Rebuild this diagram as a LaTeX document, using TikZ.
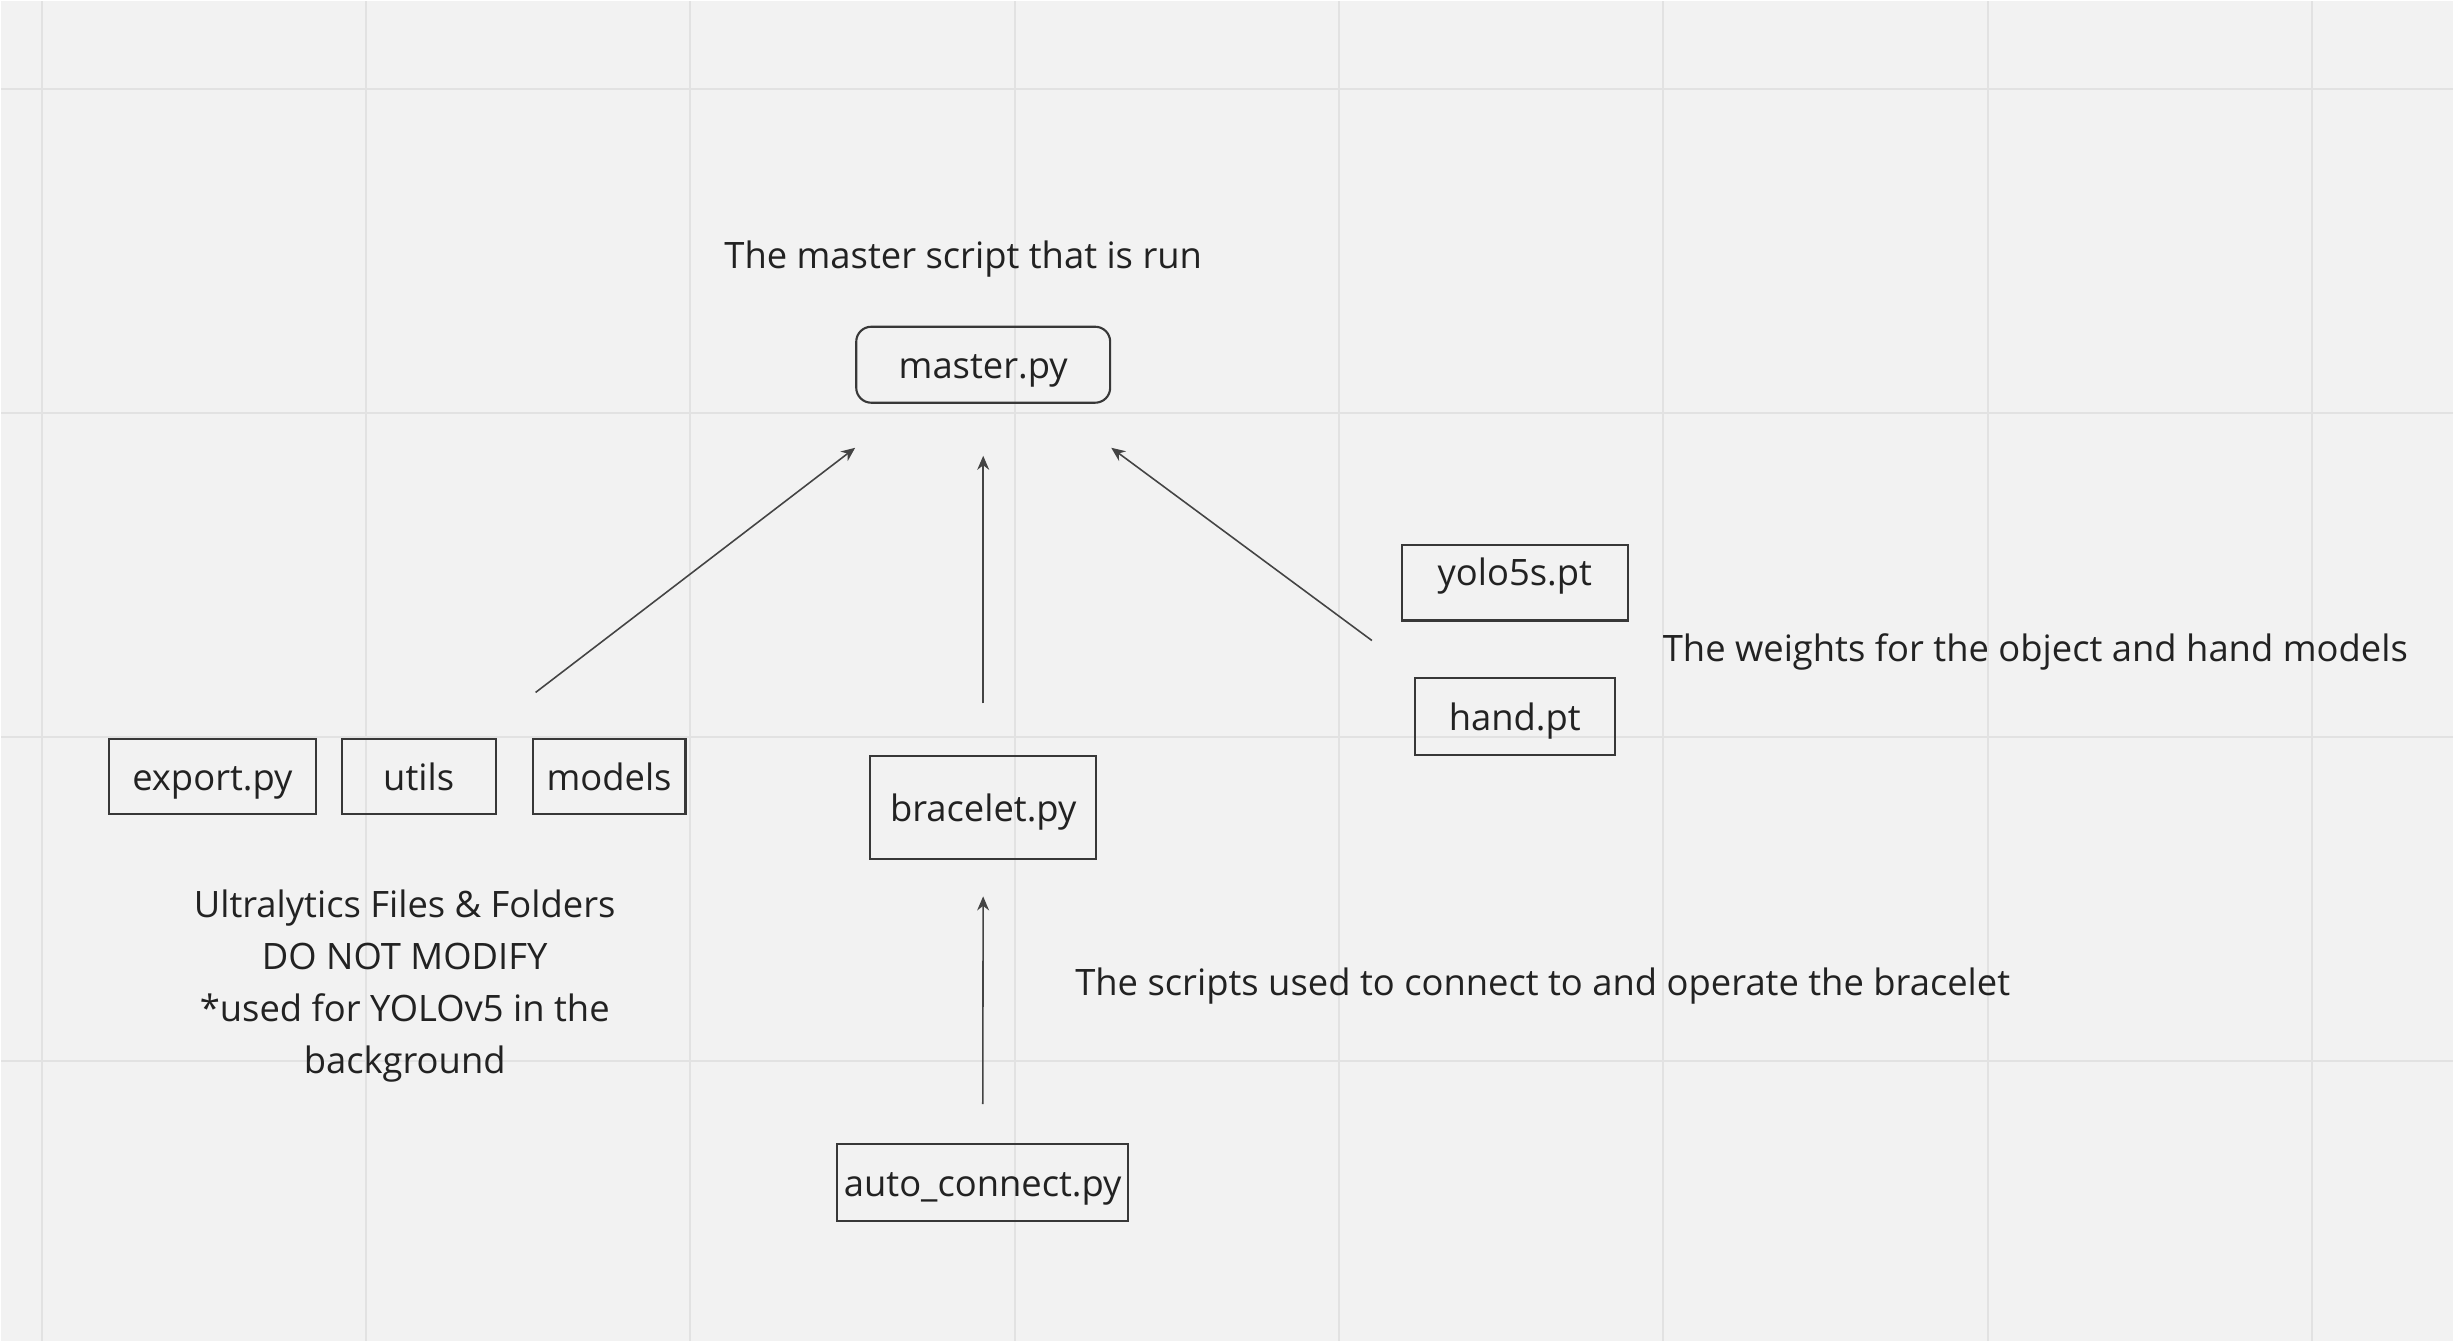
\documentclass[tikz,border=0pt]{standalone}
\usepackage{fontspec}
\setmainfont{Open Sans}
\usetikzlibrary{arrows.meta}
\definecolor{board}{HTML}{F2F2F2}
\definecolor{gridline}{HTML}{E2E2E2}
\definecolor{ink}{HTML}{222222}
\definecolor{wire}{HTML}{444444}

\begin{document}
\begin{tikzpicture}[x=0.01cm, y=-0.01cm,
  file_node/.style={draw=ink!90, line width=0.6pt, text=ink, inner sep=0pt, text height=7.8pt, text depth=0pt, font=\fontsize{10.35}{12}\selectfont},
  note_node/.style={text=ink, align=center, inner sep=0pt, font=\fontsize{10.35}{14.8}\selectfont},
  link/.style={draw=wire, line width=0.45pt, -{Stealth[length=4pt,width=3.4pt]}}]
  % board with grid
  \fill[board] (0,0) rectangle (2454,1341);
  \foreach \x in {0,...,7}
    \draw[gridline, line width=0.6pt] ({40.7+324.6*\x},0) -- ({40.7+324.6*\x},1341);
  \foreach \y in {0,...,3}
    \draw[gridline, line width=0.6pt] (0,{87.6+324.5*\y}) -- (2454,{87.6+324.5*\y});
  \useasboundingbox (0,0) rectangle (2454,1341);

  \node[file_node, rounded corners=0.15cm, minimum width=2.54cm, minimum height=0.76cm](master) at (983,364){master.py};
  \node[file_node, minimum width=2.07cm, minimum height=0.75cm](export) at (211.5,776.5){export.py};
  \node[file_node, minimum width=1.54cm, minimum height=0.75cm](utils) at (418,776.5){utils};
  \node[file_node, minimum width=1.53cm, minimum height=0.75cm](models) at (608.5,776.5){models};
  \node[file_node, minimum width=2.26cm, minimum height=1.03cm](bracelet) at (983,807.5){bracelet.py};
  \node[file_node, minimum width=2.91cm, minimum height=0.77cm](auto) at (982.5,1182.5){auto\_connect.py};
  \node[file_node, text depth=6.2pt, minimum width=2.26cm, minimum height=0.76cm](yolo) at (1515,582){yolo5s.pt};
  \node[file_node, minimum width=2.00cm, minimum height=0.77cm](hand) at (1515,716.5){hand.pt};

  \node[note_node](master_note) at (963,258){The master script that is run};
  \node[note_node](ultra_note) at (404,986){Ultralytics Files \& Folders\\DO NOT MODIFY\\*used for YOLOv5 in the\\background};
  \node[note_node](weights_note) at (2036,651){The weights for the object and hand models};
  \node[note_node](scripts_note) at (1543,986){The scripts used to connect to and operate the bracelet};

  \coordinate (ultra_end) at (535,692);
  \coordinate (weights_end) at (1372,640);
  \path
    (ultra_end) edge[link] ([yshift=-0.44cm]master.south west)
    (bracelet.north) edge[link, shorten <=0.52cm, shorten >=0.52cm] (master.south)
    (weights_end) edge[link] ([yshift=-0.44cm]master.south east)
    (auto.north) edge[link, shorten <=0.39cm, shorten >=0.36cm] (bracelet.south);
\end{tikzpicture}
\end{document}
